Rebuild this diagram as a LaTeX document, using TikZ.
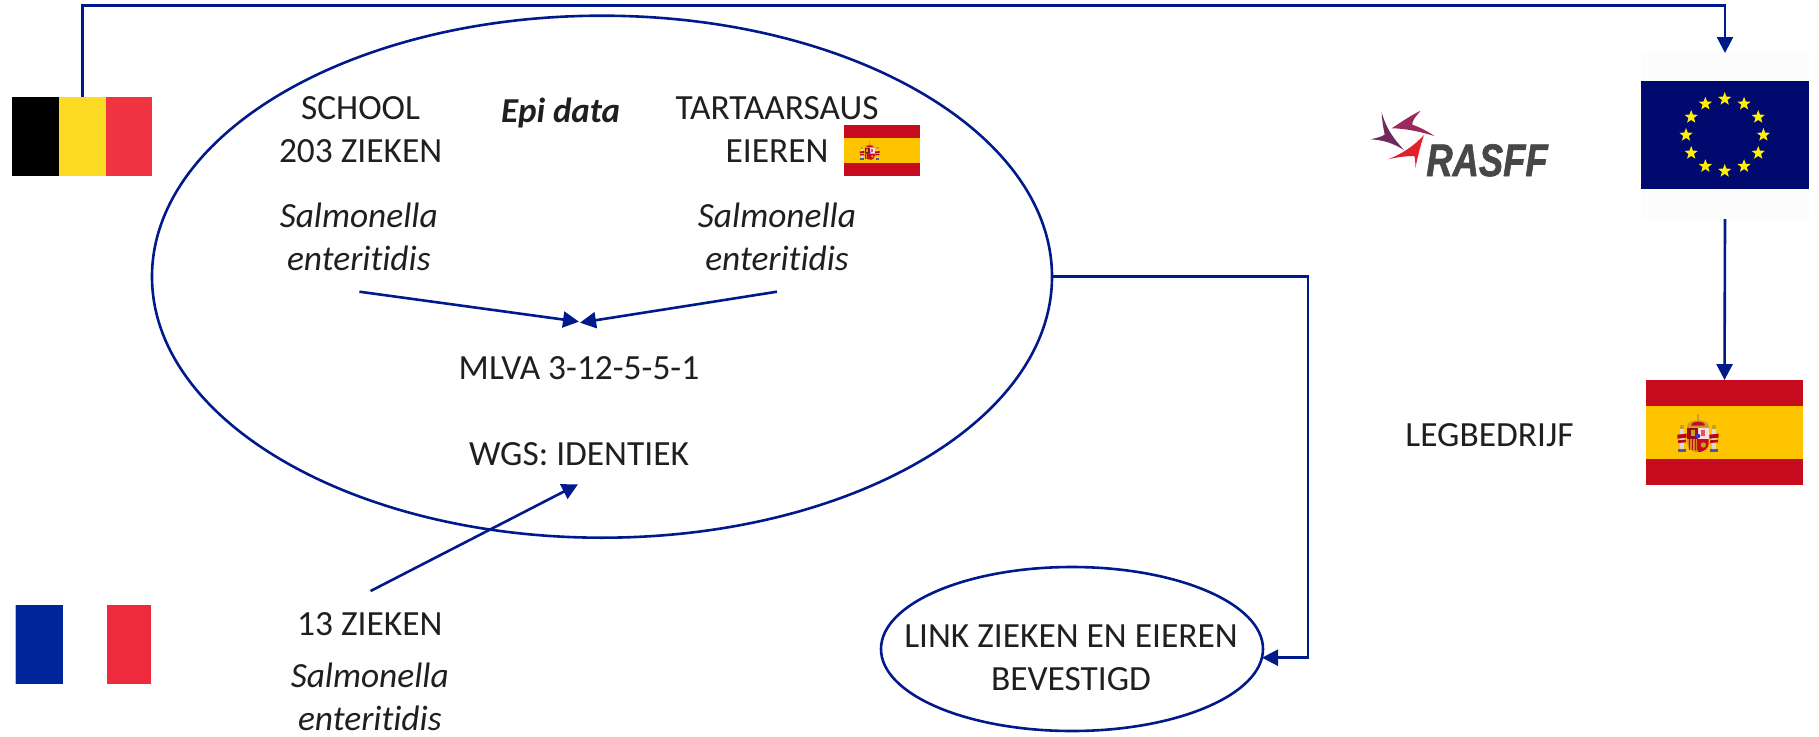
\documentclass[tikz,border=0pt]{standalone}
\usepackage{fontspec}
\setmainfont[Ligatures=NoCommon]{Carlito}
\newfontfamily\rasffont[BoldItalicFeatures={FakeBold=1.5}]{Liberation Sans}
\usetikzlibrary{arrows.meta,shapes.geometric,calc}
\definecolor{navy}{HTML}{001A8C}
\definecolor{esred}{HTML}{C60B1E}
\definecolor{esyel}{HTML}{FFC400}
\definecolor{eublue}{HTML}{000A6E}
\definecolor{euyel}{HTML}{FFEF00}
\definecolor{bered}{HTML}{EF3340}
\definecolor{beyel}{HTML}{FDDA24}
\definecolor{frblue}{HTML}{00259A}
\definecolor{frred}{HTML}{EE2B3C}
\definecolor{logoa}{HTML}{6E2A5E}
\definecolor{logob}{HTML}{9A2A5E}
\definecolor{logoc}{HTML}{D0243A}
\definecolor{logod}{HTML}{EE1C25}
\definecolor{armgold}{HTML}{C8A020}
\definecolor{armor}{HTML}{D08A20}
\newcommand\spainarms[3]{%
\begin{scope}[shift={(#1,#2)},x=#3pt,y=-#3pt]
 \foreach \s in {-1,1}{
  \fill[black!15] (\s*48-5,-18) rectangle (\s*48+5,50);
  \fill[armgold] (\s*48-7,-25) rectangle (\s*48+7,-12);
  \fill[esred!90!black] (\s*48-14,5) -- (\s*48+14,2) -- (\s*48+14,14) -- (\s*48-14,17) -- cycle;
  \fill[esred!90!black] (\s*48-12,22) -- (\s*48+12,20) -- (\s*48+12,28) -- (\s*48-12,30) -- cycle;
  \fill[blue!35!gray] (\s*48-11,47) rectangle (\s*48+11,57);
 }
 \fill[armgold] (-32,-18) .. controls (-38,-45) and (38,-45) .. (32,-18) -- cycle;
 \fill[esred] (-20,-22) .. controls (-24,-38) and (24,-38) .. (20,-22) -- cycle;
 \fill[armgold] (-2,-58) rectangle (2,-36);
 \fill[armgold] (-32,-22) rectangle (32,-16);
 \fill[esred!80!black] (-32,-16) -- (0,-16) -- (0,18) -- (-32,18) -- cycle;
 \fill[armgold] (-22,-8) rectangle (-8,8);
 \fill[pink!55!white] (0,-16) rectangle (32,18);
 \fill[red!40!purple!70] (10,-8) rectangle (22,10);
 \fill[armor] (-32,18) -- (0,18) -- (0,57) .. controls (-22,57) and (-32,44) .. (-32,30) -- cycle;
 \foreach \d in {-26,-18,-10,-4}{\draw[esred,line width=.3pt] (\d,19) -- (\d,50);}
 \fill[esred] (0,18) -- (32,18) -- (32,30) .. controls (32,44) and (22,57) .. (0,57) -- cycle;
 \fill[armgold] (16,36) circle[radius=8];
 \fill[blue!60!gray] (0,9) circle[radius=7];
\end{scope}}
\tikzset{
 line/.style={draw=navy,line width=2.6pt},
 arrowed/.style={line,-{Triangle[length=16pt,width=16pt]},shorten >=0pt},
 ring/.style={ellipse,draw=navy,line width=2.6pt,inner sep=0pt,outer sep=0pt,fill=none},
 band/.style={rectangle,inner sep=0pt,outer sep=0pt,draw=none},
 txt/.style={inner sep=0pt,outer sep=0pt,align=center,anchor=base,font=\fontsize{35.4}{43}\selectfont,text=black!88},
 txtit/.style={txt,font=\fontsize{35.4}{43}\selectfont\itshape},
 eustar/.style={star,star points=5,star point ratio=2.4,fill=euyel,inner sep=0pt,minimum size=14pt,draw=none},
}
\begin{document}
\begin{tikzpicture}[x=1pt,y=-1pt]
\useasboundingbox (0,0) rectangle (1819,736);
% Ellipses
\node[ring,minimum width=900pt,minimum height=522pt] (big) at (602,276.7) {};
\node[ring,minimum width=382pt,minimum height=164pt] (small) at (1072,649) {};
% Belgian flag
\node[band,fill=black,minimum width=47pt,minimum height=79pt] (be1) at (35.5,136.5) {};
\node[band,fill=beyel,minimum width=46.5pt,minimum height=79pt] (be) at (82.25,136.5) {};
\node[band,fill=bered,minimum width=46.5pt,minimum height=79pt] (be3) at (128.75,136.5) {};
% French flag
\node[band,fill=frblue,minimum width=48pt,minimum height=79pt] (fr1) at (39,644.3) {};
\node[band,fill=frred,minimum width=44pt,minimum height=79pt] (fr3) at (129,644.3) {};
\fill[black!25] (14.5,604.8) rectangle (16,683.8);
% EU flag
\node[band,fill=black!1,minimum width=168pt,minimum height=166pt] (eu) at (1725,136) {};
\node[band,fill=eublue,minimum width=168pt,minimum height=108pt] (eublue) at (1725,135) {};
\foreach \i in {1,...,12}{
 \node[eustar] (st\i) at ($(1724.7,135)+({38.7*cos(30*\i)},{36*sin(30*\i)})$) {};
}
% Spanish flag, large
\node[band,fill=esred,minimum width=157pt,minimum height=104.7pt] (es) at (1724.5,432.4) {};
\node[band,fill=esyel,minimum width=157pt,minimum height=52.7pt] (esmid) at (1724.5,432.4) {};
\spainarms{1698}{433}{.3333}
% Spanish flag, small
\node[band,fill=esred,minimum width=76pt,minimum height=51pt] (esb) at (882,150.5) {};
\node[band,fill=esyel,minimum width=76pt,minimum height=25.6pt] (esbmid) at (882,150.5) {};
\spainarms{869.7}{150.7}{.16}
% RASFF logo
\begin{scope}[shift={(1350,100)},x=.3333pt,y=-.3333pt]
 \fill[logoa] (95,37) .. controls (108,85) and (130,115) .. (162,150) .. controls (130,130) and (100,120) .. (62,118) .. controls (80,114) and (95,110) .. (104,104) .. controls (100,85) and (96,60) .. (95,37) -- cycle;
 \fill[logob] (212,32) .. controls (192,55) and (186,65) .. (187,74) .. controls (210,82) and (235,95) .. (253,108) .. controls (210,95) and (165,85) .. (125,85) .. controls (155,65) and (185,45) .. (212,32) -- cycle;
 \shade[left color=logoc,right color=logod] (222,105) .. controls (210,140) and (202,175) .. (196,205) .. controls (196,190) and (196,178) .. (193,168) .. controls (165,168) and (140,172) .. (113,178) .. controls (150,165) and (190,140) .. (222,105) -- cycle;
\end{scope}
\node[inner sep=0pt,anchor=base,xscale=.8,transform shape,text=black!72,font=\rasffont\fontsize{45.5}{50}\selectfont\bfseries\itshape] (rasff) at (1487,176) {RASFF};
% Texts
\node[txt] (school) at (360.6,162) {SCHOOL\\203 ZIEKEN};
\node[txt,font=\fontsize{35}{43}\selectfont\bfseries\itshape] (epi) at (560.6,122.6) {Epi data};
\node[txt] (tartaar) at (777,162) {TARTAARSAUS\\EIEREN};
\node[txtit] (sal1) at (358.8,270) {Salmonella\\enteritidis};
\node[txtit] (sal2) at (777,270) {Salmonella\\enteritidis};
\node[txt] (mlva) at (579,379) {MLVA 3-12-5-5-1};
\node[txt] (wgs) at (579,465) {WGS: IDENTIEK};
\node[txt] (dertien) at (369.8,635) {13 ZIEKEN};
\node[txtit] (sal3) at (369.8,730) {Salmonella\\enteritidis};
\node[txt] (link) at (1071,690) {LINK ZIEKEN EN EIEREN\\BEVESTIGD};
\node[txt] (leg) at (1489.5,446.7) {LEGBEDRIJF};
% Free ends
\coordinate (a1) at (359.4,291.7);
\coordinate (a2) at (777,291.7);
\coordinate (t1) at (579,321.7);
\coordinate (t2) at (580,322.7);
\coordinate (a3) at (370.6,591);
\coordinate (t3) at (578,484.3);
\coordinate (corner) at (1308,276.7);
\coordinate (smallin) at (1262,657.7);
% Connectors
\draw[arrowed] (be.north) -- (be.north |- 0,5.3) -| (eu.north);
\draw[arrowed] (eu.south) -- (es.north);
\draw[arrowed] (a1) -- (t1);
\draw[arrowed] (a2) -- (t2);
\draw[arrowed] (a3) -- (t3);
\draw[arrowed] (big.east) -- (corner) |- (smallin);
\end{tikzpicture}
\end{document}
